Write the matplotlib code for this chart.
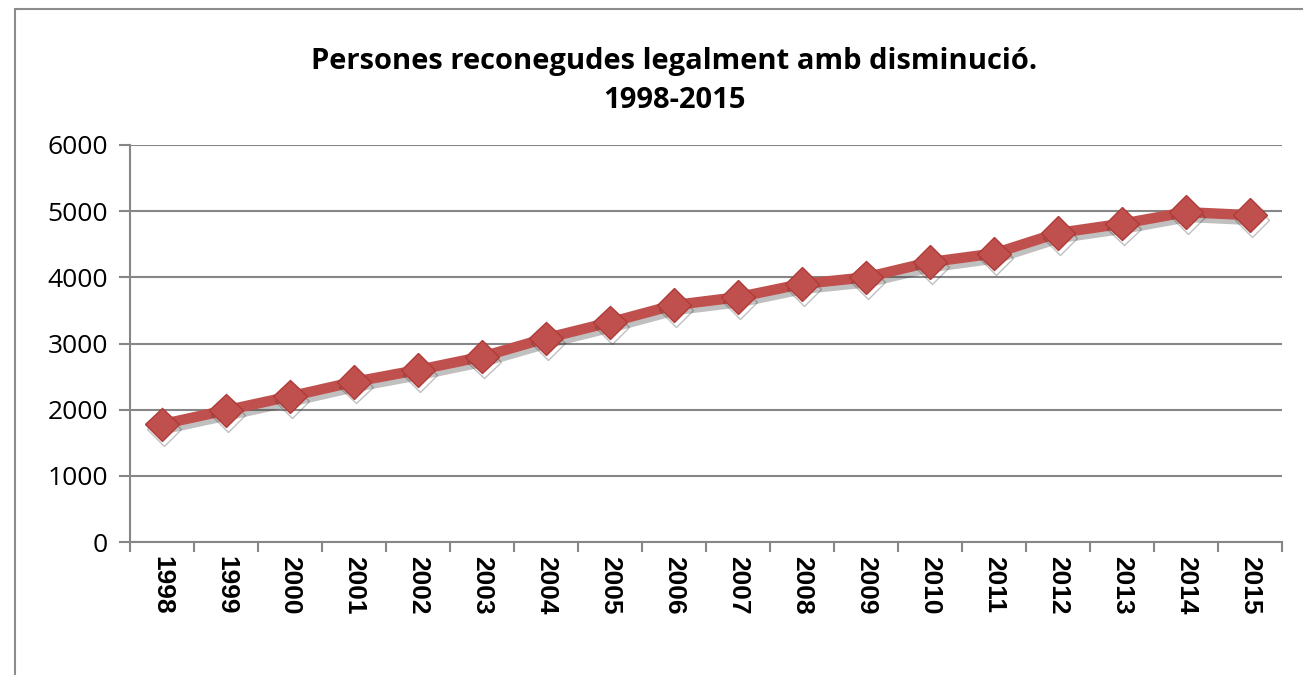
import matplotlib
matplotlib.use('Agg')
import matplotlib.pyplot as plt
import matplotlib.patheffects as pe
from matplotlib.patches import Rectangle

# dades llegides del gràfic
anys = ['1998', '1999', '2000', '2001', '2002', '2003', '2004', '2005', '2006',
        '2007', '2008', '2009', '2010', '2011', '2012', '2013', '2014', '2015']
persones = [1780, 1990, 2200, 2420, 2600, 2800, 3080, 3320, 3580,
            3700, 3900, 4000, 4230, 4360, 4670, 4810, 4985, 4940]
y_ticks = [0, 1000, 2000, 3000, 4000, 5000, 6000]

W, H = 1303, 675
fig = plt.figure(figsize=(W / 100, H / 100), dpi=100)

# marc exterior del gràfic
fig.patches.append(Rectangle((15 / W, -0.05), 1.2, 1 - 9 / H + 0.05, transform=fig.transFigure,
                             fill=False, edgecolor='#8c8c8c', linewidth=1.5))

ax = fig.add_axes([130 / W, 1 - 542 / H, (1282 - 130) / W, (542 - 145) / H])

x = list(range(len(anys)))
ax.plot(x, persones, color='#C0504D', linewidth=7.5, marker='D', markersize=17,
        markerfacecolor='#C0504D', markeredgecolor='#B03A37', markeredgewidth=1,
        solid_capstyle='round', zorder=3,
        path_effects=[pe.SimpleLineShadow(offset=(1.5, -3.5), shadow_color='#303030', alpha=0.3),
                      pe.Normal()])

ax.set_xlim(-0.5, len(anys) - 0.5)
ax.set_ylim(0, 6000)
ax.set_yticks(y_ticks)
ax.set_yticklabels([str(v) for v in y_ticks], fontsize=19, family='Open Sans')
ax.set_xticks([i - 0.5 for i in range(len(anys) + 1)])
ax.set_xticklabels([])
ax.set_xticks(x, minor=True)
ax.set_xticklabels(anys, minor=True, rotation=270, fontsize=19, fontweight='bold',
                   family='Liberation Sans')
ax.tick_params(axis='x', which='minor', length=0, pad=10)
ax.tick_params(axis='x', which='major', length=7, color='#868686', width=1.5, direction='out')
ax.tick_params(axis='y', length=8, color='#868686', width=1.5, pad=8)

ax.grid(axis='y', color='#868686', linewidth=1.5)
ax.set_axisbelow(True)
for s in ['top', 'right']:
    ax.spines[s].set_visible(False)
for s in ['left', 'bottom']:
    ax.spines[s].set_color('#868686')
    ax.spines[s].set_linewidth(1.5)

fig.text(674 / W, 1 - 62 / H, 'Persones reconegudes legalment amb disminució.', ha='center', va='center',
         fontsize=21, fontweight='bold', family='Open Sans')
fig.text(674 / W, 1 - 100 / H, '1998-2015', ha='center', va='center',
         fontsize=21, fontweight='bold', family='Open Sans')

fig.savefig('out.png', dpi=100)
